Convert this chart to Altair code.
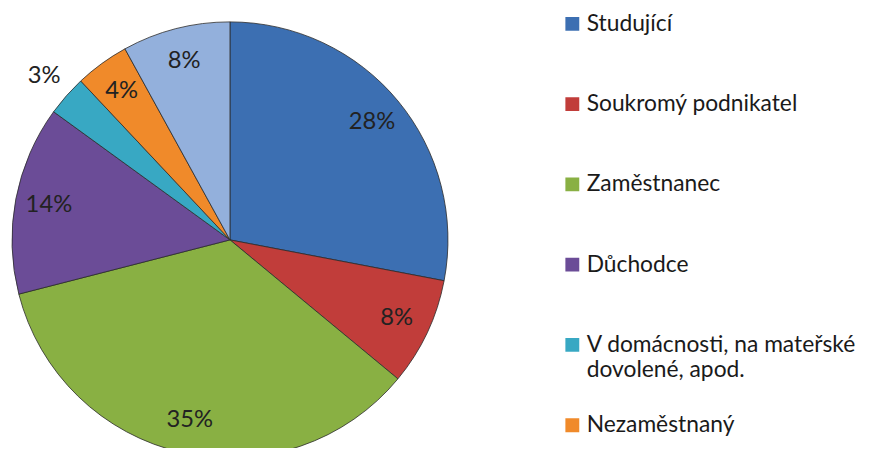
import altair as alt
import pandas as pd

categories = [
    "Studující",
    "Soukromý podnikatel",
    "Zaměstnanec",
    "Důchodce",
    "V domácnosti, na mateřské dovolené, apod.",
    "Nezaměstnaný",
    "Jiné",
]
values = [28, 8, 35, 14, 3, 4, 8]
labels = ["28%", "8%", "35%", "14%", "3%", "4%", "8%"]
colors = ["#3C6FB2", "#C13D3A", "#89B043", "#6B4C97", "#38A8C3", "#F08A2A", "#93B0DC"]

df = pd.DataFrame({
    "category": categories,
    "value": values,
    "label": labels,
    "order": list(range(len(categories))),
})

CX, CY, R = 224, 232, 220

color = alt.Color(
    "category:N",
    sort=categories,
    scale=alt.Scale(domain=categories, range=colors),
    legend=alt.Legend(
        title=None,
        orient="none",
        legendX=558,
        legendY=-26,
        padding=0,
        symbolType="square",
        symbolSize=196,
        symbolStrokeWidth=0,
        labelFont="Lato",
        labelFontSize=23,
        labelColor="#1a1a1a",
        labelOffset=3,
        labelLimit=0,
        clipHeight=80,
        rowPadding=1,
        labelExpr="datum.label == 'V domácnosti, na mateřské dovolené, apod.' ? ['V domácnosti, na mateřské', 'dovolené, apod.'] : datum.label",
    ),
)

theta_scale = alt.Scale(domain=[0, 100], range=[0, 6.283185307179586])

base = alt.Chart(df).transform_window(
    cum="sum(value)", sort=[alt.SortField("order")]
).transform_calculate(
    start="datum.cum - datum.value",
    mid="datum.cum - datum.value / 2",
    r="datum.value < 4 ? 250 : 186",
)

pie = base.mark_arc(
    outerRadius=R, x=CX, y=CY, stroke="#2a2a2a", strokeWidth=0.8
).encode(
    theta=alt.Theta("start:Q", scale=theta_scale),
    theta2="cum:Q",
    color=color,
)

text = base.mark_text(
    x=CX, y=CY, font="Lato", fontSize=24, color="#222222"
).encode(
    theta=alt.Theta("mid:Q", scale=theta_scale),
    radius=alt.Radius("r:Q", scale=None),
    text="label:N",
)

chart = alt.layer(pie, text).properties(
    width=880,
    height=440,
    padding=0,
    autosize=alt.AutoSizeParams(type="none"),
    background="white",
).configure_view(stroke=None)

chart.save("out.html", embed_options={"renderer": "svg", "actions": False})
